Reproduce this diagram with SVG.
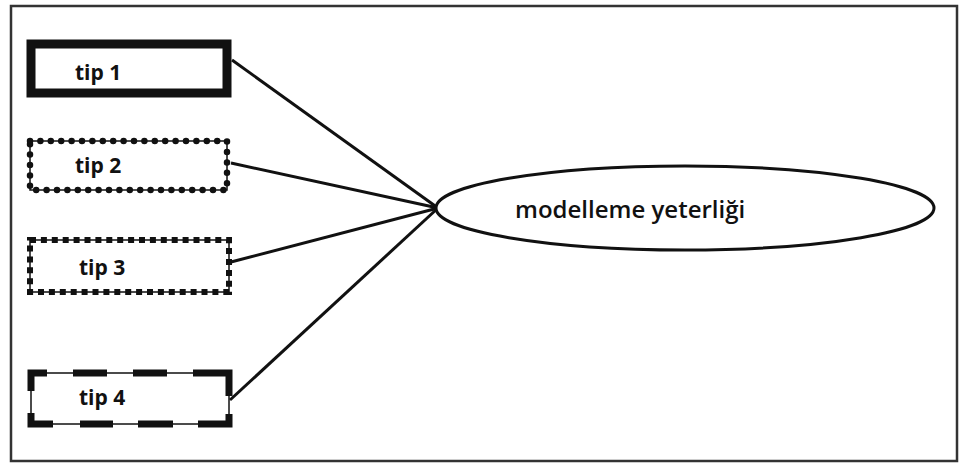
<svg xmlns="http://www.w3.org/2000/svg" width="962" height="464" viewBox="0 0 962 464">
<style>
.lbl{font-family:"Open Sans","Liberation Sans",sans-serif;font-weight:700;font-size:21px;fill:#111}
.big{font-family:"Open Sans","Liberation Sans",sans-serif;font-weight:600;font-size:24px;fill:#111}
.thin{fill:none;stroke:#111;stroke-width:1.5}
.dash{fill:none;stroke:#111;stroke-width:7}
.conn{stroke:#111;stroke-width:3;fill:none}
</style>
<rect x="0" y="0" width="962" height="464" fill="#fff"/>
<rect x="11" y="6" width="946" height="455" fill="none" stroke="#333" stroke-width="2.5"/>
<g id="connectors">
<line class="conn" x1="232" y1="60" x2="438" y2="208"/>
<line class="conn" x1="231" y1="163" x2="438" y2="208"/>
<line class="conn" x1="231" y1="262" x2="438" y2="208"/>
<line class="conn" x1="230" y1="400" x2="438" y2="208"/>
</g>
<g id="tip1">
<rect x="31" y="44" width="196" height="49" fill="#fff" stroke="#111" stroke-width="9"/>
<text class="lbl" x="75" y="80">tip 1</text>
</g>
<g id="tip2">
<rect x="30" y="141" width="197" height="49" fill="#fff" class="thin"/>
<rect x="30" y="141" width="197" height="49" fill="none" stroke="#111" stroke-width="6.5" stroke-linecap="round" stroke-dasharray="0 10.4"/>
<text class="lbl" x="75" y="173">tip 2</text>
</g>
<g id="tip3">
<rect x="30" y="240" width="199" height="52" fill="#fff" class="thin"/>
<rect x="30" y="240" width="199" height="52" fill="none" stroke="#111" stroke-width="6" stroke-dasharray="6 4.9"/>
<text class="lbl" x="79" y="275">tip 3</text>
</g>
<g id="tip4">
<rect x="31" y="373" width="198" height="51" fill="#fff" class="thin"/>
<path class="dash" d="M31 391V373H47M73 373H107M133 373H167M193 373H229V396M31 413V424H53M80 424H113M138 424H173M198 424H229V414"/>
<text class="lbl" x="79" y="405">tip 4</text>
</g>
<g id="modelleme">
<ellipse cx="685" cy="208" rx="249" ry="42" fill="#fff" stroke="#111" stroke-width="3"/>
<text class="big" x="515" y="218">modelleme yeterliği</text>
</g>
</svg>
